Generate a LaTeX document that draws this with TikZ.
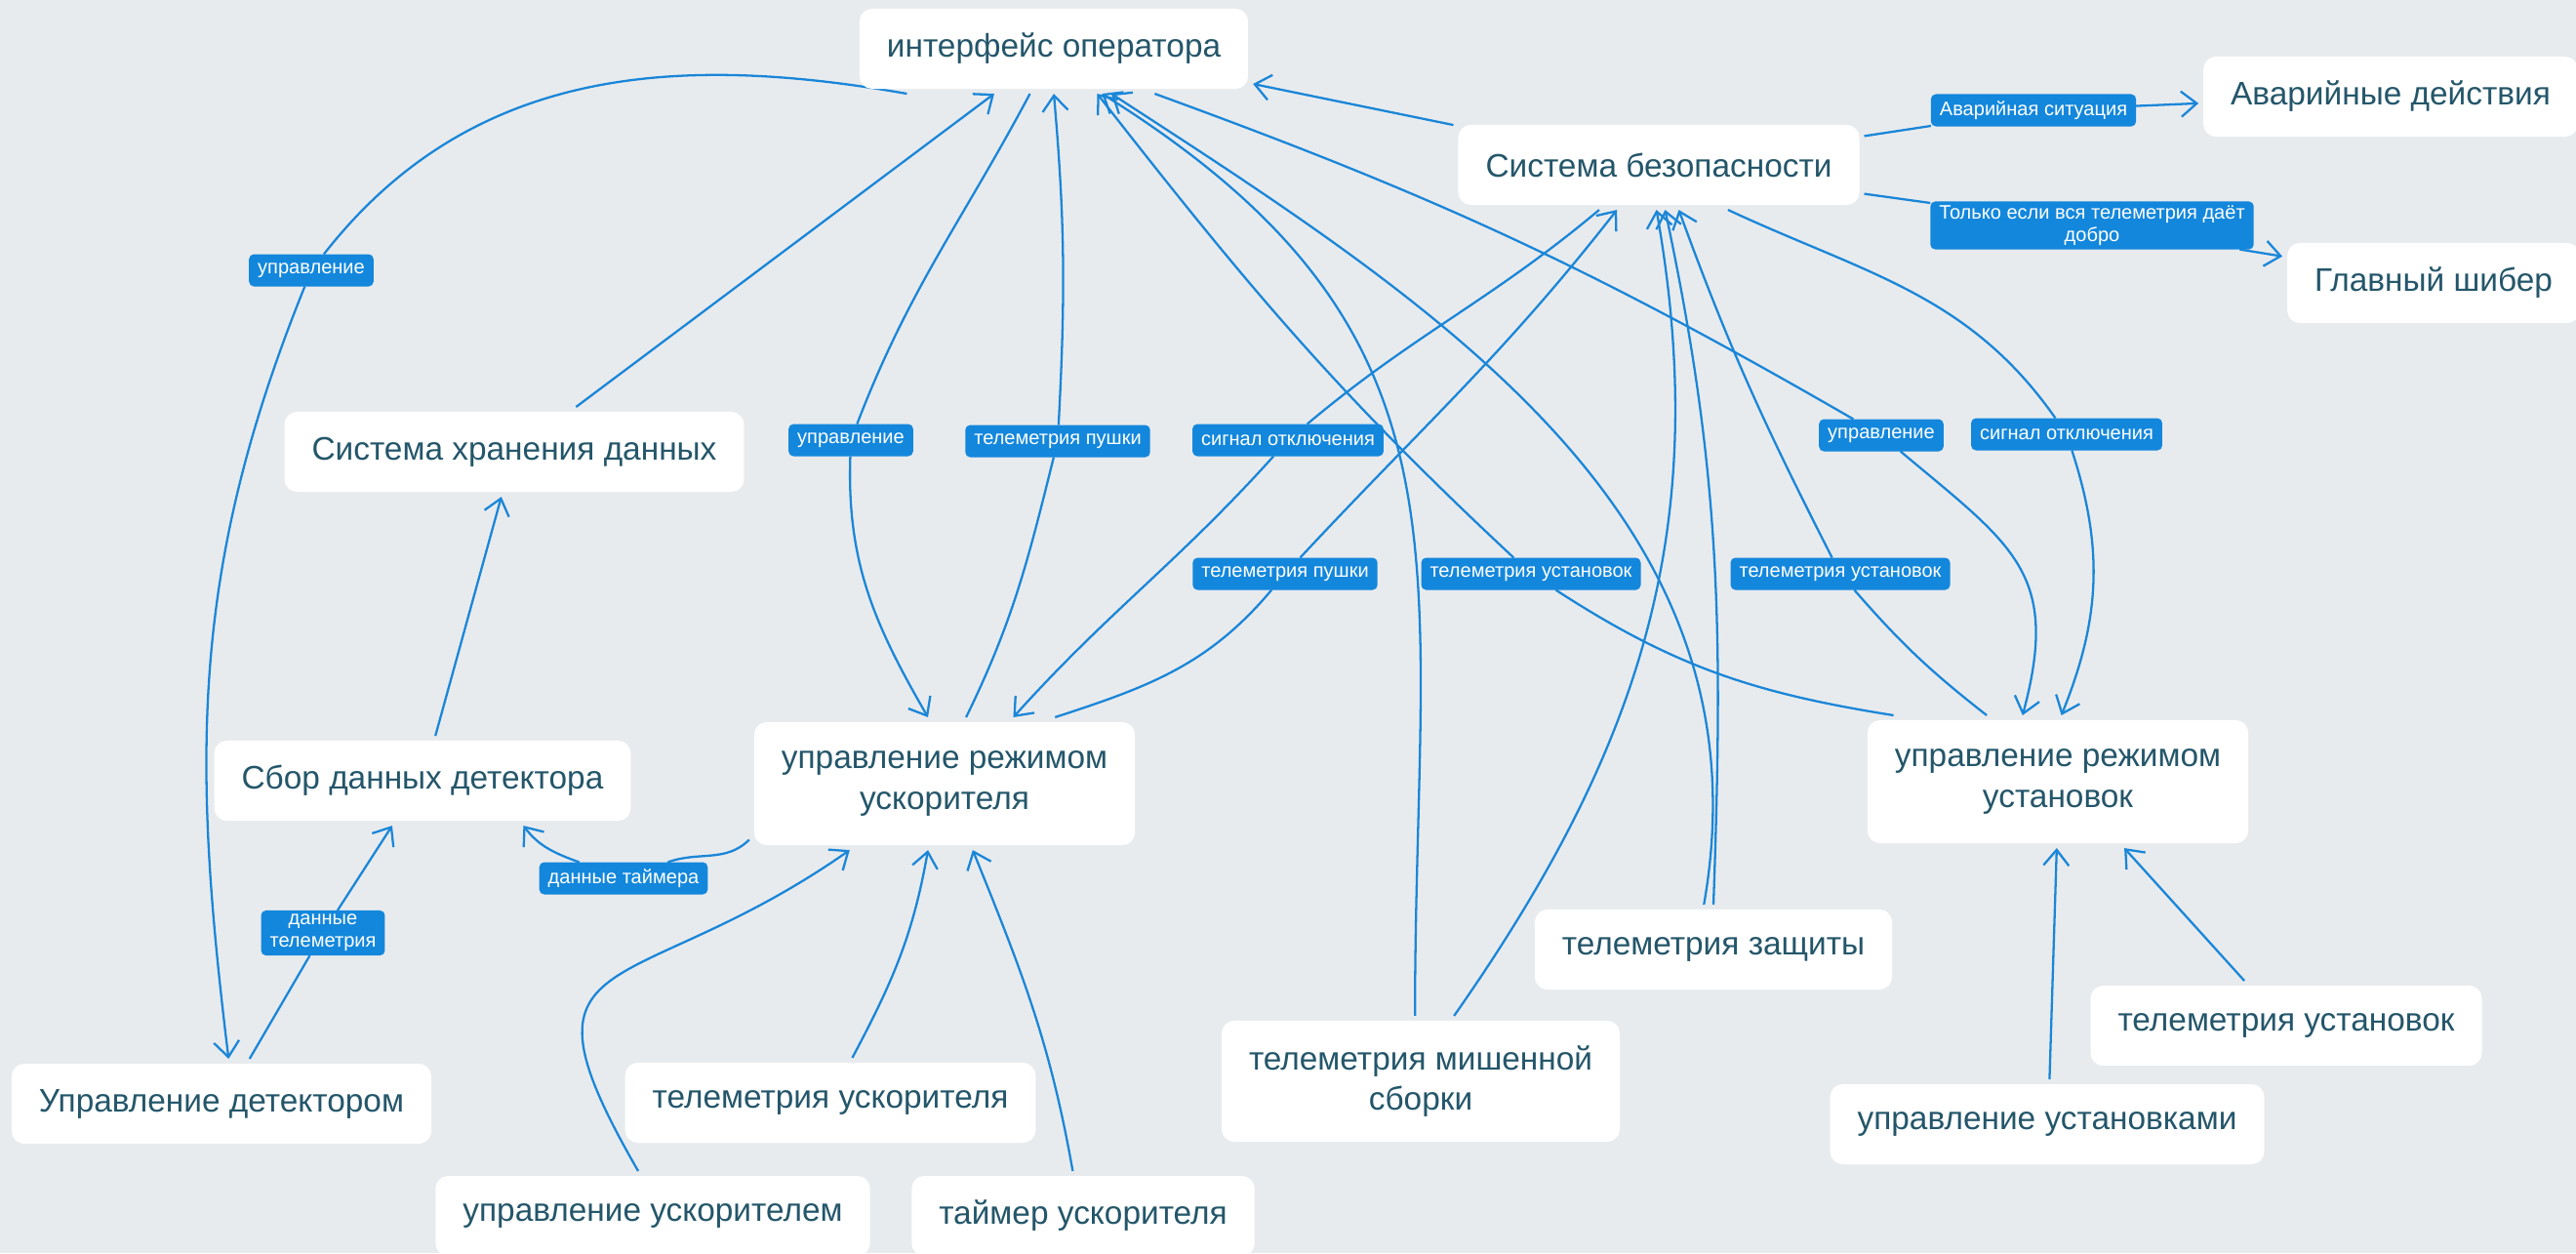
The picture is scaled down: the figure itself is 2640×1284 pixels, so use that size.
\documentclass[tikz,border=0pt]{standalone}
\usepackage{fontspec}
\setmainfont{Liberation Sans}
\usetikzlibrary{arrows.meta, positioning}
\definecolor{bgcol}{HTML}{E8EBEE}
\definecolor{nodetext}{HTML}{24566A}
\definecolor{tagblue}{HTML}{1387DC}
\definecolor{linkblue}{HTML}{1A86D8}
\pgfdeclarelayer{back}
\pgfdeclarelayer{wires}
\pgfsetlayers{back,wires,main}
\tikzset{
	block/.style={fill=white, rounded corners=0.13cm, text=nodetext, font=\fontsize{9.5}{11.7}\selectfont, inner xsep=0.28cm, minimum height=0.82cm, align=center, outer sep=0.05cm},
	tag/.style={fill=tagblue, text=white, rounded corners=0.05cm, font=\fontsize{5.7}{6.6}\selectfont, inner xsep=0.09cm, inner ysep=0.04cm, minimum height=0.33cm, align=center, outer sep=0pt},
	link/.style={draw=linkblue, line width=0.65pt, -{Straight Barb[length=0.16cm,width=0.26cm]}}
}

\begin{document}
\begin{tikzpicture}[x=0.01cm, y=0.01cm]
	\useasboundingbox (0,0) rectangle (2640,-1284);
	\begin{pgfonlayer}{back}
		\fill[bgcol] (0,0) rectangle (2640,-1284);
	\end{pgfonlayer}
	
	% boxes
	\node[block] (iface) at (1080,-50) {интерфейс оператора};
	\node[block] (safety) at (1700,-169) {Система безопасности};
	\node[block] (emerg) at (2450,-99) {Аварийные действия};
	\node[block] (gate) at (2494,-290) {Главный шибер};
	\node[block] (storage) at (527,-463) {Система хранения данных};
	\node[block] (collect) at (433,-800) {Сбор данных детектора};
	\node[block] (detctl) at (227,-1131) {Управление детектором};
	\node[block, minimum height=1.26cm] (accmode) at (968,-803) {управление режимом\\ускорителя};
	\node[block, minimum height=1.26cm] (instmode) at (2109,-801) {управление режимом\\установок};
	\node[block] (acctel) at (851,-1130) {телеметрия ускорителя};
	\node[block] (accctl) at (669,-1246) {управление ускорителем};
	\node[block] (acctimer) at (1110,-1246) {таймер ускорителя};
	\node[block, minimum height=1.24cm] (tgttel) at (1456,-1108) {телеметрия мишенной\\сборки};
	\node[block] (prottel) at (1756,-973) {телеметрия защиты};
	\node[block] (insttel) at (2343,-1051) {телеметрия установок};
	\node[block] (instctl) at (2098,-1152) {управление установками};
	
	% edge labels
	\node[tag] (l1) at (319,-277) {управление};
	\node[tag] (l4) at (331,-956) {данные\\телеметрия};
	\node[tag] (l5) at (639,-900) {данные таймера};
	\node[tag] (l6) at (872,-451) {управление};
	\node[tag] (l7) at (1084,-452) {телеметрия пушки};
	\node[tag] (l8) at (1320,-451) {сигнал отключения};
	\node[tag] (l9) at (1317,-588) {телеметрия пушки};
	\node[tag] (l11) at (2084,-113) {Аварийная ситуация};
	\node[tag] (l12) at (2144,-231) {Только если вся телеметрия даёт\\добро};
	\node[tag] (l13) at (1928,-446) {управление};
	\node[tag] (l14) at (2118,-445) {сигнал отключения};
	\node[tag] (l15) at (1569,-588) {телеметрия установок};
	\node[tag] (l16) at (1886,-588) {телеметрия установок};
	
	\begin{pgfonlayer}{wires}
		\draw[link] (iface.-163.5) to[out=170,in=52] (l1) to[out=-112,in=97] (detctl.81.3);
		\draw[link] (storage.36.6) -- (iface.-143.9);
		\draw[link] (collect.74.2) -- (storage.-106.9);
		\draw[link] (detctl.58.7) -- (l4) -- (collect.-124);
		\draw[link] (accmode.196.5) to[out=-135,in=20] (l5) to[out=160,in=-53] (collect.-24.3);
		\draw[link] (iface.-118.5) to[out=-118,in=69] (l6) to[out=-92,in=120] (accmode.104.2);
		\draw[link] (accmode.72.6) to[out=64,in=-104] (l7) to[out=87,in=-85] (iface.-90);
		\draw[link] (safety.-143.9) to[out=-140,in=40] (l8) to[out=-132,in=48] (accmode.44.6);
		\draw[link] (accmode.31.3) to[out=18,in=-130] (l9) to[out=47,in=-128] (safety.-133.1);
		\draw[link] (safety.169) -- (iface.-10.8);
		\draw[link] (safety.8.5) -- (l11) -- (emerg.182);
		\draw[link] (safety.-8) -- (l12) -- (gate.170.4);
		\draw[link] (iface.-24.9) to[out=-20,in=150] (l13) to[out=-40,in=75,looseness=1.3] (instmode.118.9);
		\draw[link] (safety.-33.7) to[out=-25,in=125] (l14) to[out=-72,in=68] (instmode.87.4);
		\draw[link] (instmode.158.6) to[out=171,in=-33] (l15) to[out=137,in=-52] (iface.-46.3);
		\draw[link] (instmode.137.1) to[out=142,in=-49] (l16) to[out=117,in=-70] (safety.-66.5);
		\draw[link] (tgttel.95.1) to[out=90,in=-32,looseness=1.2] (iface.-43.8);
		\draw[link] (tgttel.63.8) to[out=55,in=-80] (safety.-93.7);
		\draw[link] (prottel.102.3) to[out=80,in=-33] (iface.-38);
		\draw[link] (prottel.90) to[out=88,in=-78] (safety.-82.6);
		\draw[link] (acctel.64.4) to[out=62,in=-100] (accmode.-104.2);
		\draw[link] (accctl.108.1) to[out=120,in=-145,looseness=1.8] (accmode.-145.6);
		\draw[link] (acctimer.103.4) to[out=100,in=-68] (accmode.-67.3);
		\draw[link] (instctl.87.5) -- (instmode.-91.7);
		\draw[link] (insttel.133.7) -- (instmode.-45.9);
	\end{pgfonlayer}
\end{tikzpicture}
\end{document}
